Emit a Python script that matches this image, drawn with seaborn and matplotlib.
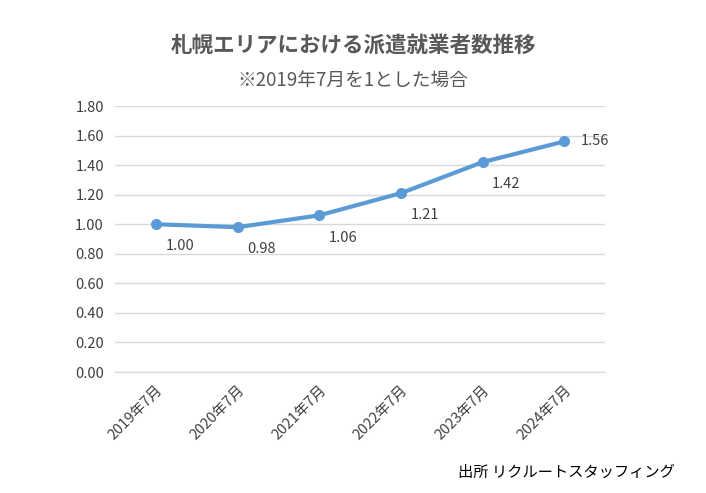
import matplotlib
matplotlib.use("Agg")
import matplotlib.pyplot as plt
import seaborn as sns
import pandas as pd

categories = ["2019年7月", "2020年7月", "2021年7月", "2022年7月", "2023年7月", "2024年7月"]
values = [1.00, 0.98, 1.06, 1.21, 1.42, 1.56]
yticks = [0.0, 0.2, 0.4, 0.6, 0.8, 1.0, 1.2, 1.4, 1.6, 1.8]

plt.rcParams["font.family"] = "Noto Sans CJK JP"
fig = plt.figure(figsize=(7.06, 4.93), dpi=100)
ax = fig.add_axes([115/706, 1-372/493, 490/706, 266/493])
x = list(range(len(categories)))
sns.lineplot(x=x, y=values, ax=ax, color="#5b9bd5", linewidth=3, marker="o", markersize=8, markeredgewidth=0)
ax.set_xlim(-0.5, 5.5)
ax.set_ylim(0, 1.8)
ax.set_yticks(yticks)
ax.set_yticklabels([f"{v:.2f}" for v in yticks], fontsize=10.5, color="#404040")
ax.set_xticks(x)
ax.set_xticklabels(categories, rotation=45, ha="right", rotation_mode="anchor", fontsize=10.5, color="#404040")
ax.grid(axis="y", color="#d9d9d9", linewidth=1)
ax.set_axisbelow(True)
for s in ["top", "right", "left"]:
    ax.spines[s].set_visible(False)
ax.spines["bottom"].set_color("#d9d9d9")
ax.tick_params(length=0, pad=8)
for i, v in enumerate(values):
    if i == len(values) - 1:
        ax.annotate(f"{v:.2f}", (i, v), xytext=(12, 0), textcoords="offset points", va="center", fontsize=10.5, color="#404040")
    else:
        ax.annotate(f"{v:.2f}", (i, v), xytext=(7, -16), textcoords="offset points", va="center", fontsize=10.5, color="#404040")
fig.text(353/706, 1-45/493, "札幌エリアにおける派遣就業者数推移", ha="center", va="center", fontsize=15.5, fontweight="bold", color="#595959")
fig.text(353/706, 1-80/493, "※2019年7月を1とした場合", ha="center", va="center", fontsize=13.5, color="#595959")
fig.text(675/706, 1-472/493, "出所 リクルートスタッフィング", ha="right", va="center", fontsize=11, color="#000000")
fig.savefig("out.png", dpi=100)
